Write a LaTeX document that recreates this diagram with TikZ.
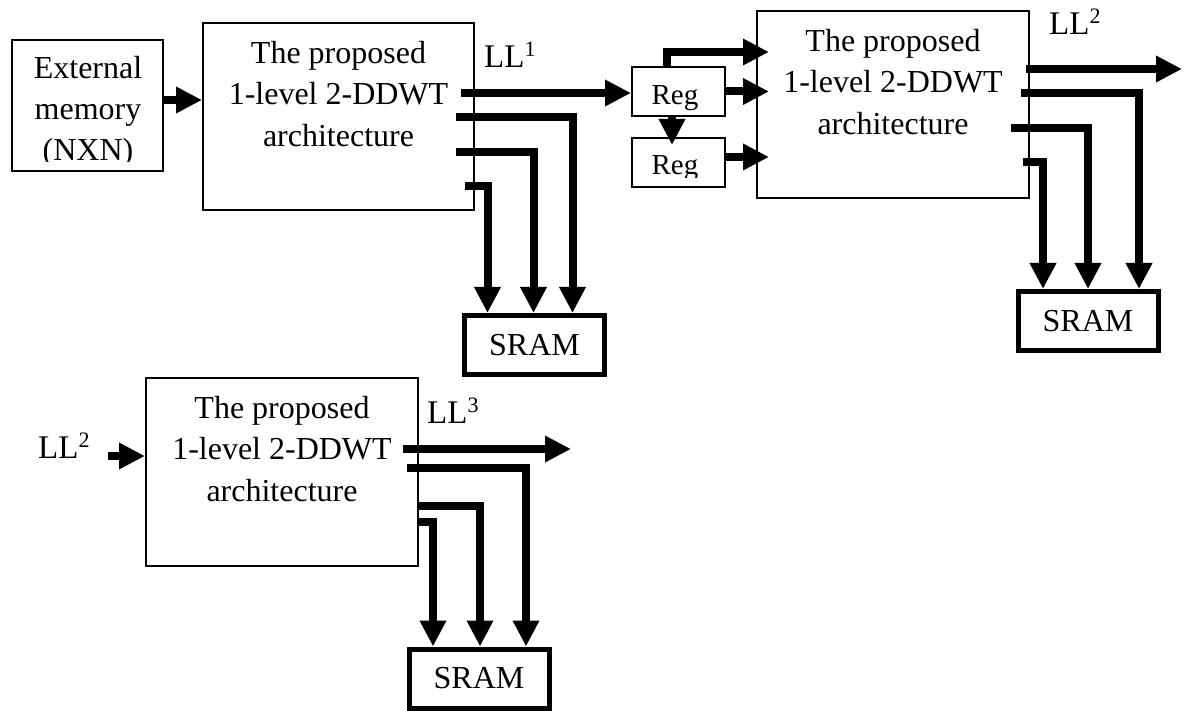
\documentclass[tikz,border=0pt]{standalone}
\usepackage{fontspec}
\setmainfont{Liberation Serif}
\usetikzlibrary{arrows.meta,calc}
\newcommand\mysup[1]{\raisebox{11pt}{\fontsize{22}{22}\selectfont #1}}
\begin{document}
\begin{tikzpicture}[x=1pt,y=-1pt,
  box/.style={draw, line width=1.6pt, inner sep=0pt},
  sram/.style={draw, line width=5pt, minimum width=140pt, minimum height=59pt, inner sep=0pt, font=\fontsize{32}{32}\selectfont},
  bus/.style={line width=8pt, line join=miter, -{Triangle[length=26pt,width=25pt]}},
  txt/.style={align=center, inner sep=0pt, font=\fontsize{32}{41.5}\selectfont},
  regtxt/.style={inner sep=0pt, anchor=base, font=\fontsize{29}{29}\selectfont},
  lab/.style={inner sep=0pt, anchor=base west, font=\fontsize{33}{33}\selectfont}]
\useasboundingbox (0,0) rectangle (1189,711);

% boxes
\node[box, minimum width=151.4pt, minimum height=131.4pt] (ext) at (87.5,105.5) {};
\node[box, minimum width=271.4pt, minimum height=187.4pt] (b1) at (338.5,116.5) {};
\node[box, minimum width=272.4pt, minimum height=187.4pt] (b2) at (893,104.5) {};
\node[box, minimum width=272.4pt, minimum height=188.4pt] (b3) at (282,472) {};
\node[box, minimum width=93.4pt, minimum height=49.4pt] (reg1) at (678.5,91.5) {};
\node[box, minimum width=93.4pt, minimum height=49.4pt] (reg2) at (678.5,162.5) {};
\node[sram] (s1) at (534.5,345) {SRAM};
\node[sram] (s2) at (1088,321) {SRAM};
\node[sram] (s3) at (479,678.5) {SRAM};

% texts
\begin{scope}
  \clip (12,40) rectangle (163,162);
  \node[txt, anchor=north, font=\fontsize{32}{41}\selectfont] (extt) at (88,56) {External\\memory\\(NXN)};
\end{scope}
\node[txt, anchor=north] (b1t) at (338.5,41) {The proposed\\1-level 2-DDWT\\architecture};
\node[txt, anchor=north] (b2t) at (893,29) {The proposed\\1-level 2-DDWT\\architecture};
\node[txt, anchor=north] (b3t) at (282,396) {The proposed\\1-level 2-DDWT\\architecture};
\node[regtxt] (r1t) at (675,105) {Reg};
\begin{scope}
  \clip (632,138) rectangle (725,178);
  \node[regtxt] (r2t) at (675,175) {Reg};
\end{scope}

% labels
\node[lab] (ll1) at (484,68) {LL\mysup{1}};
\node[lab] (ll2) at (1049,35) {LL\mysup{2}};
\node[lab] (ll3) at (427,423) {LL\mysup{3}};
\node[lab] (ll2in) at (38,458) {LL\mysup{2}};

% input arrows
\draw[bus] (ext.east |- 0,100) -- (b1.west |- 0,100);
\coordinate (b3in) at (108,456);
\draw[bus] (b3in) -- (b3in -| b3.west);

% block 1 outputs
\coordinate (b1o1) at (461,93);
\coordinate (b1o2) at (456,117);
\coordinate (b1o3) at (456,152);
\coordinate (b1o4) at (465,186);
\draw[bus] (b1o1) -- (b1o1 -| reg1.west);
\draw[bus] (b1o2) -| ($(s1.north)+(38,0)$);
\draw[bus] (b1o3) -| ($(s1.north)+(-1,0)$);
\draw[bus] (b1o4) -| ($(s1.north)+(-47,0)$);

% registers
\coordinate (r1top) at (667,68);
\draw[bus] (r1top) |- ($(b2.west |- 0,52)+(13,0)$);
\draw[bus] (reg1.east) -- ($(reg1.east -| b2.west)+(13,0)$);
\draw[bus] (reg2.east |- 0,157) -- ($(b2.west |- 0,157)+(13,0)$);
\draw[bus] (reg1.south -| 672,0) -- ($(reg2.north -| 672,0)+(0,8)$);

% block 2 outputs
\coordinate (b2o1) at (1026,69);
\coordinate (b2end) at (1182,69);
\coordinate (b2o2) at (1021,93);
\coordinate (b2o3) at (1011,128);
\coordinate (b2o4) at (1023,162);
\draw[bus] (b2o1) -- (b2end);
\draw[bus] (b2o2) -| ($(s2.north)+(51,0)$);
\draw[bus] (b2o3) -| ($(s2.north)+(0,0)$);
\draw[bus] (b2o4) -| ($(s2.north)+(-45,0)$);

% block 3 outputs
\coordinate (b3o1) at (403,449);
\coordinate (b3end) at (571,449);
\coordinate (b3o2) at (407,468);
\coordinate (b3o3) at (417,506);
\coordinate (b3o4) at (419,522);
\draw[bus] (b3o1) -- (b3end);
\draw[bus] (b3o2) -| ($(s3.north)+(47,0)$);
\draw[bus] (b3o3) -| ($(s3.north)+(1,0)$);
\draw[bus] (b3o4) -| ($(s3.north)+(-46,0)$);
\end{tikzpicture}
\end{document}
